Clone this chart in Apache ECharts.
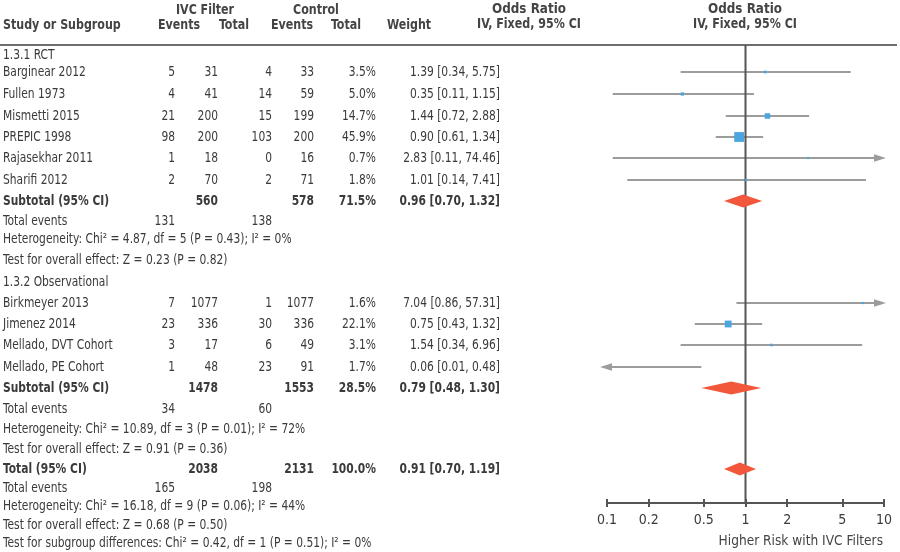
<!DOCTYPE html>
<html><head><meta charset="utf-8">
<script src="https://cdn.jsdelivr.net/npm/echarts@6/dist/echarts.min.js"></script>
<style>html,body{margin:0;padding:0;background:#fff}#c{width:900px;height:552px}</style>
</head><body><div id="c"></div>
<script>
// ---------------- DATA ----------------
const rctTitle = '1.3.1 RCT';
const rctNames = ['Barginear 2012','Fullen 1973','Mismetti 2015','PREPIC 1998','Rajasekhar 2011','Sharifi 2012'];
const rctIvcEvents = [5,4,21,98,1,2];
const rctIvcTotal = [31,41,200,200,18,70];
const rctCtlEvents = [4,14,15,103,0,2];
const rctCtlTotal = [33,59,199,200,16,71];
const rctWeight = [3.5,5.0,14.7,45.9,0.7,1.8];
const rctOR = [1.39,0.35,1.44,0.90,2.83,1.01];
const rctLo = [0.34,0.11,0.72,0.61,0.11,0.14];
const rctHi = [5.75,1.15,2.88,1.34,74.46,7.41];

const obsTitle = '1.3.2 Observational';
const obsNames = ['Birkmeyer 2013','Jimenez 2014','Mellado, DVT Cohort','Mellado, PE Cohort'];
const obsIvcEvents = [7,23,3,1];
const obsIvcTotal = [1077,336,17,48];
const obsCtlEvents = [1,30,6,23];
const obsCtlTotal = [1077,336,49,91];
const obsWeight = [1.6,22.1,3.1,1.7];
const obsOR = [7.04,0.75,1.54,0.06];
const obsLo = [0.86,0.43,0.34,0.01];
const obsHi = [57.31,1.32,6.96,0.48];

// summaries: [RCT, Observational, Overall]
const sumLabels = ['Subtotal (95% CI)','Subtotal (95% CI)','Total (95% CI)'];
const sumIvcTotal = [560,1478,2038];
const sumCtlTotal = [578,1553,2131];
const sumWeight = [71.5,28.5,100.0];
const sumOR = [0.96,0.79,0.91];
const sumLo = [0.70,0.48,0.70];
const sumHi = [1.32,1.30,1.19];
const sumIvcEvents = [131,34,165];
const sumCtlEvents = [138,60,198];
const sumHetero = [
  'Heterogeneity: Chi\u00B2 = 4.87, df = 5 (P = 0.43); I\u00B2 = 0%',
  'Heterogeneity: Chi\u00B2 = 10.89, df = 3 (P = 0.01); I\u00B2 = 72%',
  'Heterogeneity: Chi\u00B2 = 16.18, df = 9 (P = 0.06); I\u00B2 = 44%'
];
const sumEffect = [
  'Test for overall effect: Z = 0.23 (P = 0.82)',
  'Test for overall effect: Z = 0.91 (P = 0.36)',
  'Test for overall effect: Z = 0.68 (P = 0.50)'
];
const subgroupTest = 'Test for subgroup differences: Chi\u00B2 = 0.42, df = 1 (P = 0.51); I\u00B2 = 0%';

const tickValues = [0.1,0.2,0.5,1,2,5,10];
const tickLabels = ['0.1','0.2','0.5','1','2','5','10'];
const axisNote = 'Higher Risk with IVC Filters';

// ---------------- LAYOUT / STYLE ----------------
const rowY = [55,72,94,116,137,158,180,201,221,239,260,282,303,324,345,367,388,409,429,449,469,488,506,525,543];
const colX = {name:3, ivcEv:175, ivcTot:218, ctlEv:272, ctlTot:314, weight:376, or:500};
const headerRuleY = 45, axisY = 503;
const FONT = "'DejaVu Sans Condensed','DejaVu Sans',sans-serif";
const FS = 14;
const SX_BODY = 0.85, SX_HEAD = 0.88, SX_NOTE = 0.97;
const TXT = '#3a3a3a';
const HDR = '#444';
const CI_COLOR = '#9c9c9c';
const SQ_COLOR = '#4ba5df';
const DIA_COLOR = '#f2573b';
const LINE_DARK = '#555';

// ---------------- BUILD ----------------
const texts = [];
function T(x, y, text, align, bold, color, sx) {
  texts.push({x, y, text: String(text), align: align || 'right', bold: !!bold,
              color: color || TXT, sx: sx || SX_BODY});
}
const studyMarks = [];
const diamondMarks = [];
const fmtOR = (o, l, h) => o.toFixed(2) + ' [' + l.toFixed(2) + ', ' + h.toFixed(2) + ']';

// headers
T(3, 25, 'Study or Subgroup', 'left', true, HDR, SX_HEAD);
T(205, 10, 'IVC Filter', 'center', true, HDR, SX_HEAD);
T(179, 25, 'Events', 'center', true, HDR, SX_HEAD);
T(234, 25, 'Total', 'center', true, HDR, SX_HEAD);
T(316, 10, 'Control', 'center', true, HDR, SX_HEAD);
T(292, 25, 'Events', 'center', true, HDR, SX_HEAD);
T(346, 25, 'Total', 'center', true, HDR, SX_HEAD);
T(409, 25, 'Weight', 'center', true, HDR, SX_HEAD);
T(529, 9, 'Odds Ratio', 'center', true, HDR, 0.95);
T(529, 24, 'IV, Fixed, 95% CI', 'center', true, HDR, SX_HEAD);
T(745, 9, 'Odds Ratio', 'center', true, HDR, 0.95);
T(745, 24, 'IV, Fixed, 95% CI', 'center', true, HDR, SX_HEAD);
T(883, 541, axisNote, 'right', false, HDR, SX_NOTE);

let ri = 0;
function group(title, names, ie, it, ce, ct, w, or, lo, hi, s) {
  T(colX.name, rowY[ri++], title, 'left');
  for (let i = 0; i < names.length; i++) {
    const y = rowY[ri++];
    T(colX.name, y, names[i], 'left');
    T(colX.ivcEv, y, ie[i]); T(colX.ivcTot, y, it[i]);
    T(colX.ctlEv, y, ce[i]); T(colX.ctlTot, y, ct[i]);
    T(colX.weight, y, w[i].toFixed(1) + '%');
    T(colX.or, y, fmtOR(or[i], lo[i], hi[i]));
    studyMarks.push([or[i], y, lo[i], hi[i], w[i]]);
  }
  summary(s);
}
function summary(s) {
  let y = rowY[ri++];
  T(colX.name, y, sumLabels[s], 'left', true);
  T(colX.ivcTot, y, sumIvcTotal[s], 'right', true);
  T(colX.ctlTot, y, sumCtlTotal[s], 'right', true);
  T(colX.weight, y, sumWeight[s].toFixed(1) + '%', 'right', true);
  T(colX.or, y, fmtOR(sumOR[s], sumLo[s], sumHi[s]), 'right', true);
  diamondMarks.push([sumOR[s], y, sumLo[s], sumHi[s]]);
  y = rowY[ri++];
  T(colX.name, y, 'Total events', 'left');
  T(colX.ivcEv, y, sumIvcEvents[s]); T(colX.ctlEv, y, sumCtlEvents[s]);
  T(colX.name, rowY[ri++], sumHetero[s], 'left');
  T(colX.name, rowY[ri++], sumEffect[s], 'left');
}
group(rctTitle, rctNames, rctIvcEvents, rctIvcTotal, rctCtlEvents, rctCtlTotal, rctWeight, rctOR, rctLo, rctHi, 0);
group(obsTitle, obsNames, obsIvcEvents, obsIvcTotal, obsCtlEvents, obsCtlTotal, obsWeight, obsOR, obsLo, obsHi, 1);
summary(2);
T(colX.name, rowY[ri++], subgroupTest, 'left');

const XMIN = tickValues[0], XMAX = tickValues[tickValues.length - 1];
const fmtTick = v => {
  const i = tickValues.findIndex(t => Math.abs(Math.log10(t) - Math.log10(v)) < 1e-6);
  return i >= 0 ? tickLabels[i] : '';
};

const chart = echarts.init(document.getElementById('c'), null, {renderer: 'canvas'});
chart.setOption({
  animation: false,
  backgroundColor: '#fff',
  grid: [
    {left: 607, top: 0, width: 277, height: axisY, outerBoundsMode: 'none', containLabel: false},
    {left: 0, top: 0, width: 900, height: 552, outerBoundsMode: 'none', containLabel: false}
  ],
  xAxis: [
    {type: 'log', logBase: 10, min: XMIN, max: XMAX, gridIndex: 0, position: 'bottom', offset: -4,
     axisLine: {show: false, onZero: false},
     axisTick: {show: true, customValues: tickValues, length: 8, lineStyle: {color: LINE_DARK, width: 2}},
     axisLabel: {show: true, customValues: tickValues, formatter: fmtTick, margin: 14,
                 color: TXT, fontSize: FS, fontFamily: FONT},
     splitLine: {show: false}, minorTick: {show: false}},
    {type: 'value', min: 0, max: 900, gridIndex: 1, show: false}
  ],
  yAxis: [
    {type: 'value', min: 0, max: axisY, inverse: true, gridIndex: 0, show: false},
    {type: 'value', min: 0, max: 552, inverse: true, gridIndex: 1, show: false}
  ],
  series: [
    { // table text + header rule
      type: 'custom', xAxisIndex: 1, yAxisIndex: 1, clip: false, silent: true, z: 1,
      data: texts.map((t, i) => [t.x, t.y, i]).concat([[0, headerRuleY, -1]]),
      renderItem(params, api) {
        const idx = api.value(2);
        const p = api.coord([api.value(0), api.value(1)]);
        if (idx < 0) {
          const q = api.coord([897, headerRuleY]);
          return {type: 'line', shape: {x1: p[0], y1: p[1], x2: q[0], y2: q[1]},
                  style: {stroke: '#6e6e6e', lineWidth: 2}};
        }
        const t = texts[idx];
        return {type: 'text', x: p[0], y: p[1], scaleX: t.sx,
                style: {text: t.text, fill: t.color, align: t.align, verticalAlign: 'middle',
                        font: (t.bold ? 'bold ' : '') + FS + 'px ' + FONT}};
      }
    },
    { // CI lines with arrows
      type: 'custom', xAxisIndex: 0, yAxisIndex: 0, clip: false, silent: true, z: 2,
      data: studyMarks,
      renderItem(params, api) {
        const y = api.value(1), lo = api.value(2), hi = api.value(3);
        const eL = api.coord([XMIN, y])[0], eR = api.coord([XMAX, y])[0];
        const py = api.coord([1, y])[1];
        const x1 = lo < XMIN ? eL + 4 : api.coord([lo, y])[0];
        const x2 = hi > XMAX ? eR - 9 : api.coord([hi, y])[0];
        const children = [{type: 'line', shape: {x1, y1: py, x2, y2: py}, style: {stroke: CI_COLOR, lineWidth: 2}}];
        if (lo < XMIN) children.push({type: 'polygon', shape: {points: [[eL - 7, py], [eL + 5, py - 3.8], [eL + 5, py + 3.8]]}, style: {fill: CI_COLOR}});
        if (hi > XMAX) children.push({type: 'polygon', shape: {points: [[eR + 2, py], [eR - 10, py - 3.8], [eR - 10, py + 3.8]]}, style: {fill: CI_COLOR}});
        return {type: 'group', children};
      }
    },
    { // line of no effect + axis baseline
      type: 'custom', xAxisIndex: 0, yAxisIndex: 0, clip: false, silent: true, z: 3,
      data: [[1, headerRuleY, axisY, 0], [XMIN, axisY, XMAX, 1]],
      renderItem(params, api) {
        let a, b;
        if (api.value(3) === 0) {
          a = api.coord([api.value(0), api.value(1)]);
          b = api.coord([api.value(0), api.value(2)]);
        } else {
          a = api.coord([api.value(0), api.value(1)]);
          b = api.coord([api.value(2), api.value(1)]);
        }
        return {type: 'line', shape: {x1: a[0], y1: a[1], x2: b[0], y2: b[1]}, style: {stroke: LINE_DARK, lineWidth: 2}};
      }
    },
    { // study squares
      type: 'custom', xAxisIndex: 0, yAxisIndex: 0, clip: false, silent: true, z: 4,
      data: studyMarks,
      renderItem(params, api) {
        const or = api.value(0), y = api.value(1), w = api.value(4);
        if (or < XMIN || or > XMAX) return null;
        const p = api.coord([or, y]);
        const s = Math.max(2.2, 1.45 * Math.sqrt(w));
        return {type: 'rect', shape: {x: p[0] - s / 2, y: p[1] - s / 2, width: s, height: s}, style: {fill: SQ_COLOR}};
      }
    },
    { // pooled diamonds
      type: 'custom', xAxisIndex: 0, yAxisIndex: 0, clip: false, silent: true, z: 5,
      data: diamondMarks,
      renderItem(params, api) {
        const y = api.value(1);
        const c = api.coord([api.value(0), y]);
        const l = api.coord([api.value(2), y]);
        const r = api.coord([api.value(3), y]);
        const h = 6.5;
        return {type: 'polygon', shape: {points: [[l[0], c[1]], [c[0], c[1] - h], [r[0], c[1]], [c[0], c[1] + h]]}, style: {fill: DIA_COLOR}};
      }
    }
  ]
});
</script>
</body></html>
